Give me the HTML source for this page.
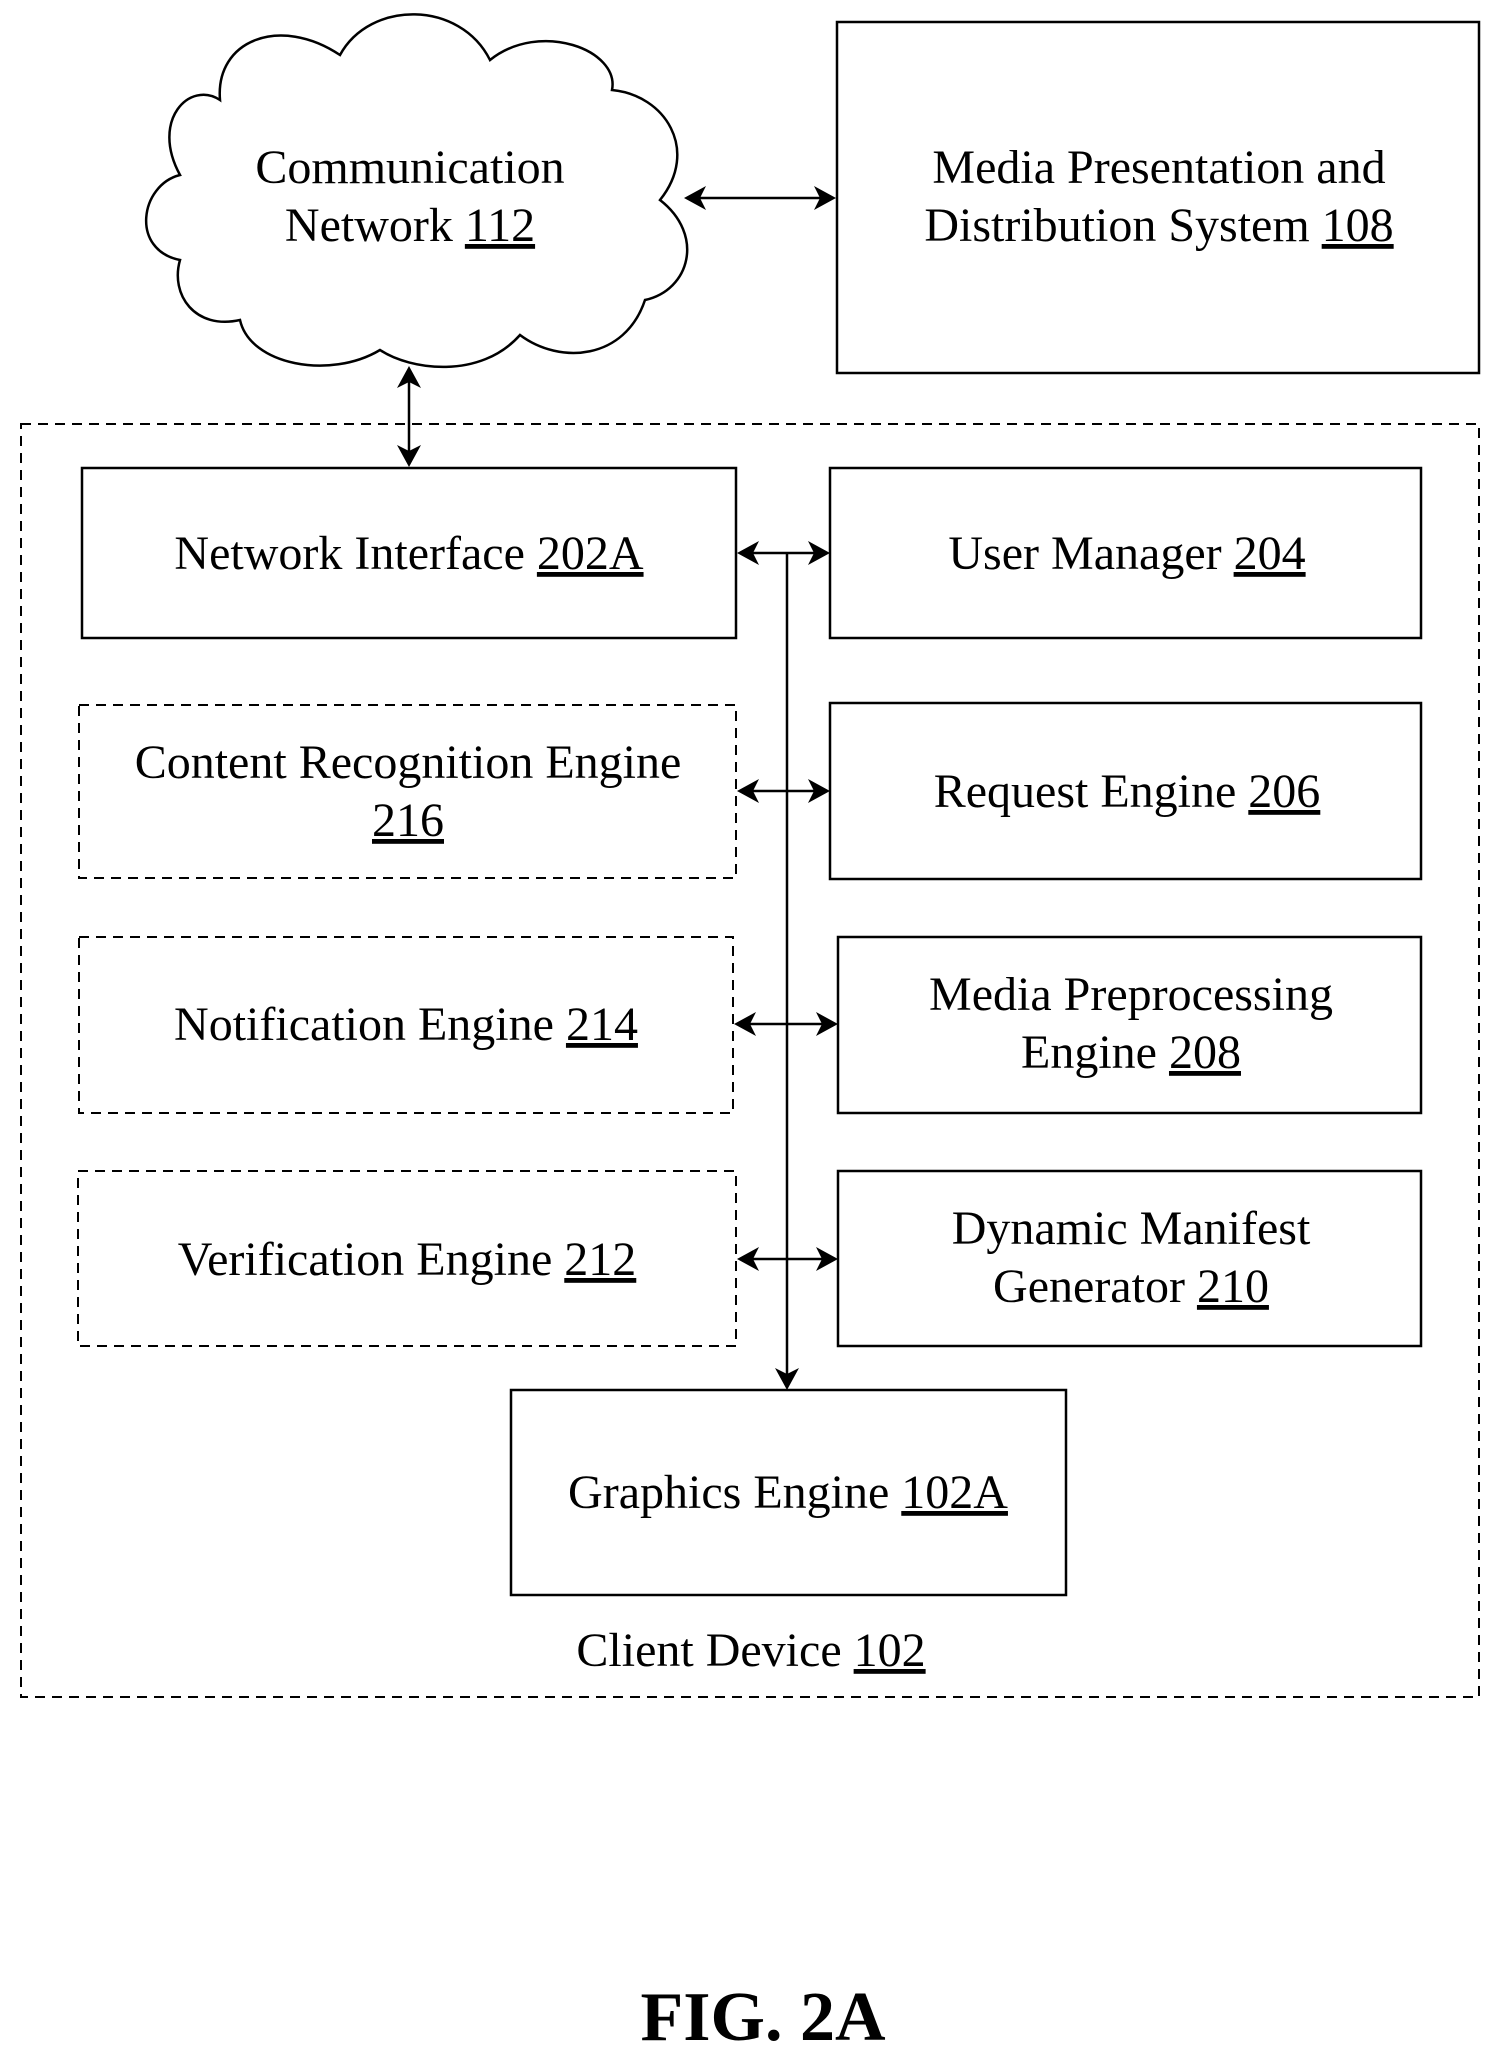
<!DOCTYPE html>
<html><head><style>
body{margin:0;background:#fff;}
svg text{font-family:"Liberation Serif",serif;font-size:48px;fill:#000;}
</style></head><body>
<svg width="1500" height="2061" viewBox="0 0 1500 2061" xmlns="http://www.w3.org/2000/svg">
<g fill="none" stroke="#000" stroke-width="2.5">
<!-- cloud -->
<path d="M180,175 C150,120 190,80 220,100 C215,40 280,15 340,55 C370,0 460,0 490,60 C540,20 620,50 612,90 C665,95 700,150 660,200 C705,235 690,290 645,300 C625,360 560,365 520,335 C480,380 410,370 380,350 C330,380 250,365 240,320 C195,330 170,295 180,260 C130,250 140,185 180,175 Z"/>
<rect x="837" y="22" width="642" height="351"/>
<rect x="21" y="424" width="1458" height="1273" stroke-dasharray="10,7" stroke-width="2"/>
<rect x="82" y="468" width="654" height="170"/>
<rect x="830" y="468" width="591" height="170"/>
<rect x="79" y="705" width="657" height="173" stroke-dasharray="10,7" stroke-width="2"/>
<rect x="830" y="703" width="591" height="176"/>
<rect x="79" y="937" width="654" height="176" stroke-dasharray="10,7" stroke-width="2"/>
<rect x="838" y="937" width="583" height="176"/>
<rect x="78" y="1171" width="658" height="175" stroke-dasharray="10,7" stroke-width="2"/>
<rect x="838" y="1171" width="583" height="175"/>
<rect x="511" y="1390" width="555" height="205"/>
<line x1="700" y1="198" x2="820" y2="198"/>
<line x1="409" y1="380" x2="409" y2="455"/>
<line x1="787" y1="553" x2="787" y2="1375"/>
<line x1="750" y1="553" x2="815" y2="553"/>
<line x1="750" y1="791" x2="815" y2="791"/>
<line x1="747" y1="1024" x2="823" y2="1024"/>
<line x1="750" y1="1259" x2="823" y2="1259"/>
</g>
<g fill="#000">
<polygon points="684,198 706,186 700,198 706,210"/>
<polygon points="836,198 814,186 820,198 814,210"/>
<polygon points="409,366 397,388 409,382 421,388"/>
<polygon points="409,467 397,445 409,451 421,445"/>
<polygon points="787,1390 775,1368 787,1374 799,1368"/>
<polygon points="737,553 759,541 753,553 759,565"/>
<polygon points="830,553 808,541 814,553 808,565"/>
<polygon points="737,791 759,779 753,791 759,803"/>
<polygon points="830,791 808,779 814,791 808,803"/>
<polygon points="734,1024 756,1012 750,1024 756,1036"/>
<polygon points="838,1024 816,1012 822,1024 816,1036"/>
<polygon points="737,1259 759,1247 753,1259 759,1271"/>
<polygon points="838,1259 816,1247 822,1259 816,1271"/>
</g>
<g text-anchor="middle">
<text x="410" y="183">Communication</text>
<text x="410" y="241">Network <tspan text-decoration="underline">112</tspan></text>
<text x="1159" y="183">Media Presentation and</text>
<text x="1159" y="241">Distribution System <tspan text-decoration="underline">108</tspan></text>
<text x="409" y="569">Network Interface <tspan text-decoration="underline">202A</tspan></text>
<text x="1127" y="569">User Manager <tspan text-decoration="underline">204</tspan></text>
<text x="408" y="778">Content Recognition Engine</text>
<text x="408" y="836" text-decoration="underline">216</text>
<text x="1127" y="807">Request Engine <tspan text-decoration="underline">206</tspan></text>
<text x="406" y="1040">Notification Engine <tspan text-decoration="underline">214</tspan></text>
<text x="1131" y="1010">Media Preprocessing</text>
<text x="1131" y="1068">Engine <tspan text-decoration="underline">208</tspan></text>
<text x="407" y="1275">Verification Engine <tspan text-decoration="underline">212</tspan></text>
<text x="1131" y="1244">Dynamic Manifest</text>
<text x="1131" y="1302">Generator <tspan text-decoration="underline">210</tspan></text>
<text x="788" y="1508">Graphics Engine <tspan text-decoration="underline">102A</tspan></text>
<text x="751" y="1666">Client Device <tspan text-decoration="underline">102</tspan></text>
<text x="763" y="2040" style="font-size:70px;font-weight:bold">FIG. 2A</text>
</g>
</svg>
</body></html>
